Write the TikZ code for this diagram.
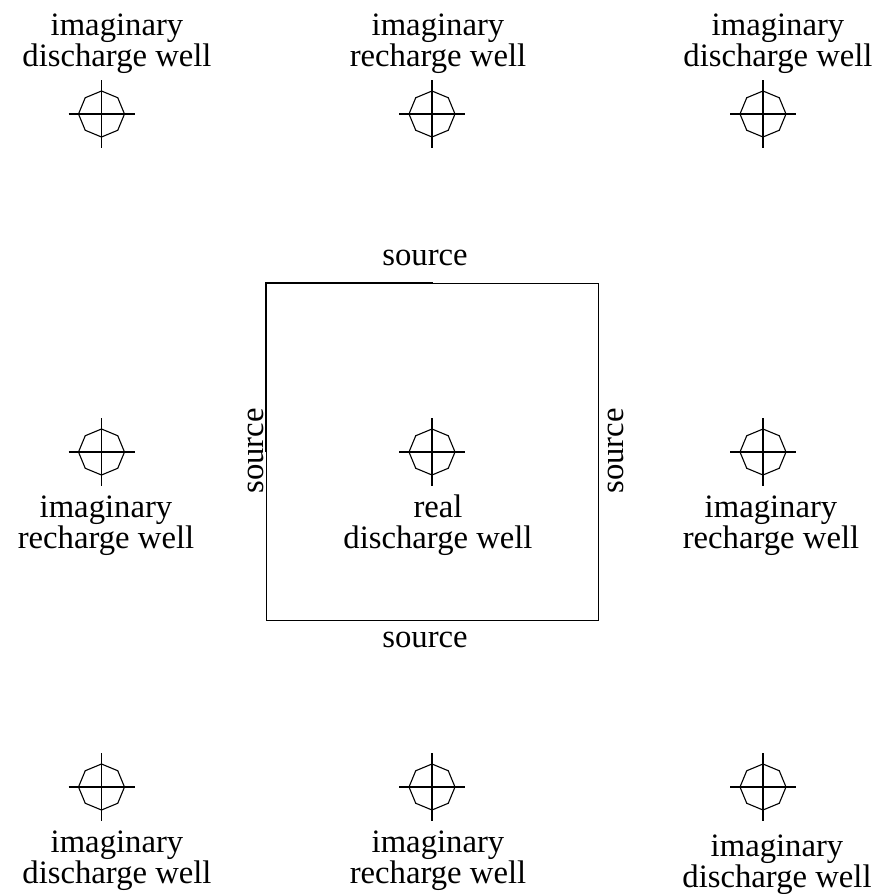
\documentclass[tikz,border=0pt]{standalone}
\usepackage{fontspec}
\setmainfont{Liberation Serif}
\usetikzlibrary{positioning,shapes.geometric}
\tikzset{wellsym/.style={regular polygon,regular polygon sides=8,shape border rotate=22.5,draw,line width=0.55pt,minimum size=23pt,inner sep=0pt},
wlabel/.style={align=center,inner sep=0pt,font=\fontsize{16.35}{15.6}\selectfont},
edgeline/.style={line width=0.5pt},
edgeheavy/.style={line width=0.85pt}}
\begin{document}
\begin{tikzpicture}[x=0.5pt,y=-0.5pt]
\useasboundingbox (0,0) rectangle (880,894);
% the wells: name, x, y
\foreach \nm/\xx/\yy in {tl/101.5/114,tc/432/114,tr/763/114,ml/101.5/452,mc/432/452,mr/763/452,bl/101.5/787,bc/432/787,br/763/787}{
\node[wellsym] (\nm) at (\xx,\yy) {};
\coordinate (\nm w) at (\xx-33,\yy);
\coordinate (\nm e) at (\xx+33,\yy);
\coordinate (\nm n) at (\xx,\yy-34);
\coordinate (\nm s) at (\xx,\yy+34);
\draw[line width=0.55pt] (\nm w) -- (\nm e);
\draw[line width=0.55pt] (\nm n) -- (\nm s);
}
%right arm of the middle row is heavier
\foreach \nm in {ml,mc,mr}{
\draw[edgeheavy] (\nm.center) -- (\nm e);
}
% the square
\coordinate (c1) at (266,283);
\coordinate (c2) at (598,283);
\coordinate (c3) at (598,620);
\coordinate (c4) at (266,620);
\coordinate (c12) at (433,283);
\coordinate (c41) at (266,452);
\draw[edgeline] (c1) -- (c2) -- (c3) -- (c4) -- cycle;
\draw[edgeheavy] (c41) -- (c1) -- (c12);
% texts
\node[wlabel] (ltl) at (117,43.5) {imaginary\\discharge well};
\node[wlabel] (ltc) at (438,43.5) {imaginary\\recharge well};
\node[wlabel] (ltr) at (778,43.5) {imaginary\\discharge well};
\node[wlabel] (lml) at (106,525.5) {imaginary\\recharge well};
\node[wlabel] (lmc) at (438,525.5) {real\\discharge well};
\node[wlabel] (lmr) at (771,525.5) {imaginary\\recharge well};
\node[wlabel] (lbl) at (117,860.5) {imaginary\\discharge well};
\node[wlabel] (lbc) at (438,860.5) {imaginary\\recharge well};
\node[wlabel] (lbr) at (777,864.5) {imaginary\\discharge well};
\node[wlabel] (stop) at (425,258) {source};
\node[wlabel] (sbot) at (425,640) {source};
\node[wlabel,rotate=90] (slef) at (256,451) {source};
\node[wlabel,rotate=90] (srig) at (616,451) {source};
\end{tikzpicture}
\end{document}
